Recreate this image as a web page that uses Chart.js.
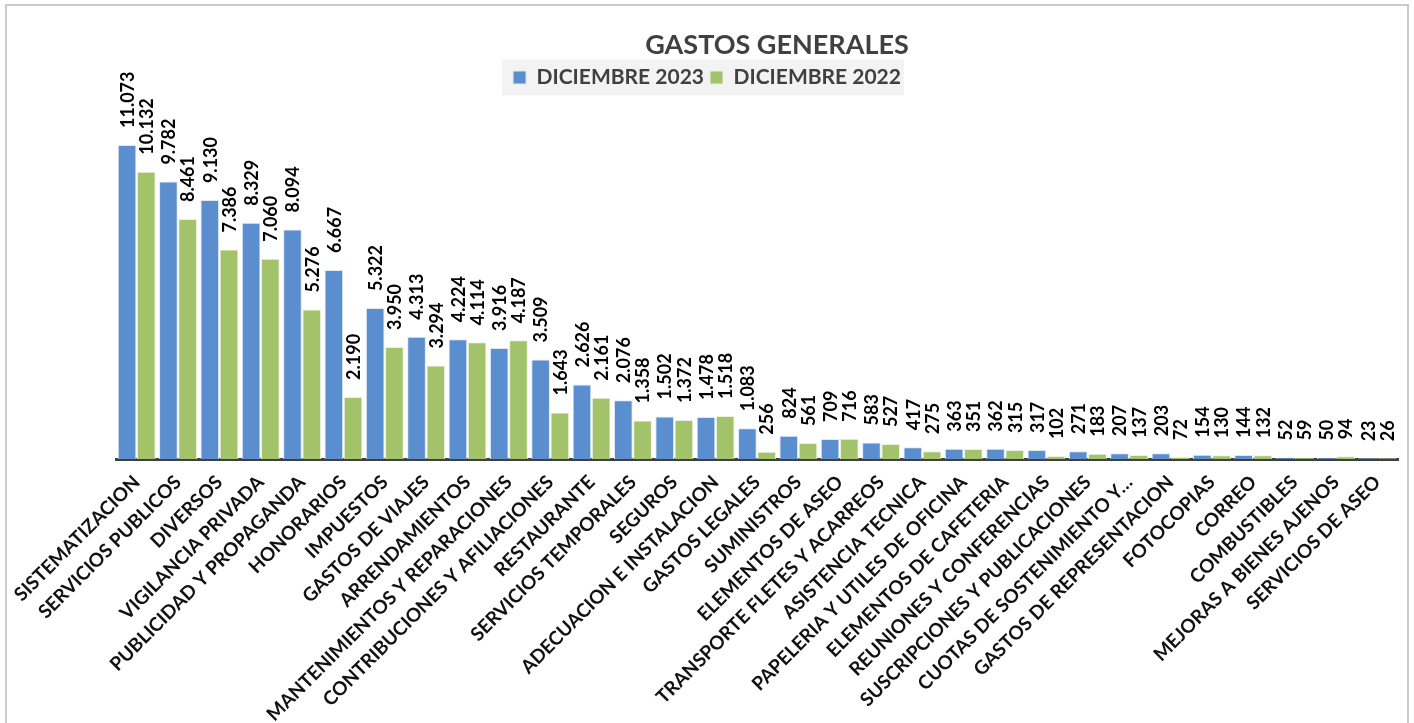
<!DOCTYPE html>
<html>
<head>
<meta charset="utf-8">
<script src="https://cdn.jsdelivr.net/npm/chart.js@4.4.1/dist/chart.umd.min.js"></script>
<style>
html,body{margin:0;padding:0;background:#fff;}
#wrap{position:relative;width:1414px;height:723px;overflow:hidden;}
#frame{position:absolute;left:5px;top:4px;width:1404px;height:740px;border:2px solid #cacaca;box-sizing:border-box;pointer-events:none;}
canvas{position:absolute;left:0;top:0;}
</style>
</head>
<body>
<div id="wrap">
<canvas id="c" width="1414" height="723"></canvas>
<div id="frame"></div>
</div>
<script>
const chartTitle = 'GASTOS GENERALES';
const categories = [
  'SISTEMATIZACION','SERVICIOS PUBLICOS','DIVERSOS','VIGILANCIA PRIVADA','PUBLICIDAD Y PROPAGANDA',
  'HONORARIOS','IMPUESTOS','GASTOS DE VIAJES','ARRENDAMIENTOS','MANTENIMIENTOS Y REPARACIONES',
  'CONTRIBUCIONES Y AFILIACIONES','RESTAURANTE','SERVICIOS TEMPORALES','SEGUROS','ADECUACION E INSTALACION',
  'GASTOS LEGALES','SUMINISTROS','ELEMENTOS DE ASEO','TRANSPORTE FLETES Y ACARREOS','ASISTENCIA TECNICA',
  'PAPELERIA Y UTILES DE OFICINA','ELEMENTOS DE CAFETERIA','REUNIONES Y CONFERENCIAS','SUSCRIPCIONES Y PUBLICACIONES','CUOTAS DE SOSTENIMIENTO Y…',
  'GASTOS DE REPRESENTACION','FOTOCOPIAS','CORREO','COMBUSTIBLES','MEJORAS A BIENES AJENOS',
  'SERVICIOS DE ASEO'
];
const seriesNames = ['DICIEMBRE 2023','DICIEMBRE 2022'];
const dic2023 = [11073,9782,9130,8329,8094,6667,5322,4313,4224,3916,3509,2626,2076,1502,1478,1083,824,709,583,417,363,362,317,271,207,203,154,144,52,50,23];
const dic2022 = [10132,8461,7386,7060,5276,2190,3950,3294,4114,4187,1643,2161,1358,1372,1518,256,561,716,527,275,351,315,102,183,137,72,130,132,59,94,26];
const yMax = 12730;

const FONT = 'Lato, "Open Sans", sans-serif';

function fmt(v){ return String(v).replace(/\B(?=(\d{3})+(?!\d))/g, '.'); }

const decorPlugin = {
  id: 'decor',
  beforeDraw(chart){
    const lg = chart.legend;
    if (!lg || !lg.legendHitBoxes || !lg.legendHitBoxes.length) return;
    const hb = lg.legendHitBoxes;
    const first = hb[0], last = hb[hb.length-1];
    const cy = first.top + first.height/2;
    const ctx = chart.ctx;
    ctx.save();
    ctx.fillStyle = '#f3f3f3';
    ctx.fillRect(first.left - 11, cy - 18, (last.left + last.width) - first.left + 14, 36);
    ctx.restore();
  },
  afterDatasetsDraw(chart){
    const ctx = chart.ctx;
    ctx.save();
    ctx.font = 'bold 18px ' + FONT;
    ctx.fillStyle = '#000';
    ctx.textAlign = 'left';
    ctx.textBaseline = 'middle';
    chart.data.datasets.forEach((ds, di) => {
      const meta = chart.getDatasetMeta(di);
      meta.data.forEach((el, i) => {
        ctx.save();
        ctx.translate(el.x, el.y - 17);
        ctx.rotate(-Math.PI/2);
        ctx.fillText(fmt(ds.data[i]), 0, 1);
        ctx.restore();
      });
    });
    ctx.restore();
  },
  afterDraw(chart){
    const ctx = chart.ctx;
    ctx.save();
    ctx.font = 'bold 27px ' + FONT;
    ctx.fillStyle = '#404040';
    ctx.textAlign = 'center';
    ctx.textBaseline = 'middle';
    ctx.fillText(chartTitle, 777, 45);
    ctx.restore();
  }
};

new Chart(document.getElementById('c'), {
  type: 'bar',
  data: {
    labels: categories,
    datasets: [
      { label: seriesNames[0], data: dic2023, backgroundColor: '#5b8ecf', borderColor: '#dfe8f4', borderWidth: 1, barPercentage: 0.97, categoryPercentage: 0.93 },
      { label: seriesNames[1], data: dic2022, backgroundColor: '#a3c36b', borderColor: '#eaf1de', borderWidth: 1, barPercentage: 0.97, categoryPercentage: 0.93 }
    ]
  },
  options: {
    responsive: false,
    animation: false,
    layout: { padding: { left: 16, right: 16, top: 61, bottom: 0 } },
    plugins: {
      title: { display: false },
      tooltip: { enabled: false },
      legend: {
        display: true,
        position: 'top',
        labels: {
          boxWidth: 13, boxHeight: 13, padding: 6,
          color: '#404040',
          font: { family: FONT, size: 21, weight: 'bold' }
        }
      }
    },
    scales: {
      x: {
        grid: { display: false },
        border: { display: true, color: '#404040', width: 3 },
        ticks: {
          color: '#111',
          minRotation: 45, maxRotation: 45,
          autoSkip: false,
          padding: 4,
          font: { family: FONT, size: 19, weight: 'bold' }
        },
        afterFit(scale){ scale.height = 264; }
      },
      y: {
        display: true,
        min: 0,
        max: yMax,
        grid: { display: false },
        border: { display: false },
        ticks: { display: false },
        afterFit(scale){ scale.width = 100; }
      }
    }
  },
  plugins: [decorPlugin]
});
</script>
</body>
</html>
